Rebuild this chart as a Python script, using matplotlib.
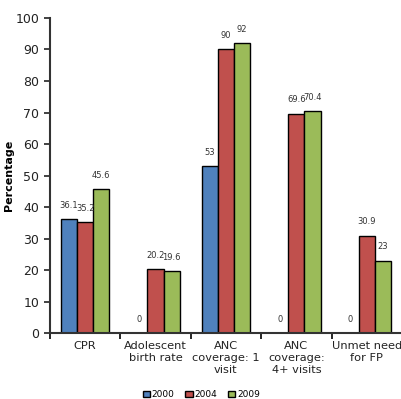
import numpy as np
import matplotlib.pyplot as plt
from matplotlib.ticker import FixedLocator

categories = ['CPR', 'Adolescent\nbirth rate', 'ANC\ncoverage: 1\nvisit',
              'ANC\ncoverage:\n4+ visits', 'Unmet need\nfor FP']
years = ['2000', '2004', '2009']
v2000 = [36.1, 0, 53, 0, 0]
v2004 = [35.2, 20.2, 90, 69.6, 30.9]
v2009 = [45.6, 19.6, 92, 70.4, 23]
colors = ['#4F81BD', '#C0504D', '#9BBB59']

fig = plt.figure(figsize=(4.02, 3.99), dpi=100)
ax = fig.add_axes([0.124, 0.165, 0.876, 0.79])

x = np.arange(len(categories))
w = 0.23
series = [v2000, v2004, v2009]
for i, (vals, c, yr) in enumerate(zip(series, colors, years)):
    pos = x + (i - 1) * w
    ax.bar(pos, vals, w, color=c, edgecolor='black', linewidth=1.0, label=yr)
    for p, v in zip(pos, vals):
        txt = f'{v:g}'
        ax.text(p, v + 3, txt, ha='center', va='bottom', fontsize=6,
                color='#333333')

ax.set_xlim(-0.5, len(categories) - 0.5)
ax.set_ylim(0, 100)
ax.set_yticks(range(0, 101, 10))
ax.set_xticks(x)
ax.set_xticklabels(categories, fontsize=8.2, color='#222222', linespacing=1.25)
ax.tick_params(axis='x', length=0, pad=6)
ax.xaxis.set_minor_locator(FixedLocator(np.arange(-0.5, len(categories), 1)))
ax.tick_params(axis='x', which='minor', length=4, width=1.2, direction='out')
ax.tick_params(axis='y', labelsize=9, colors='#222222', length=4, width=1.2)
ax.set_ylabel('Percentage', fontsize=8, fontweight='bold', labelpad=1)

for s in ['top', 'right']:
    ax.spines[s].set_visible(False)
for s in ['left', 'bottom']:
    ax.spines[s].set_linewidth(1.5)
    ax.spines[s].set_color('#333333')

ax.legend(loc='center', bbox_to_anchor=(0.43, -0.195), ncol=3, frameon=False,
          fontsize=6.5, handlelength=0.8, handleheight=0.8, handletextpad=0.2,
          columnspacing=1.2, borderpad=0.1)

fig.savefig('out.png', dpi=100)
